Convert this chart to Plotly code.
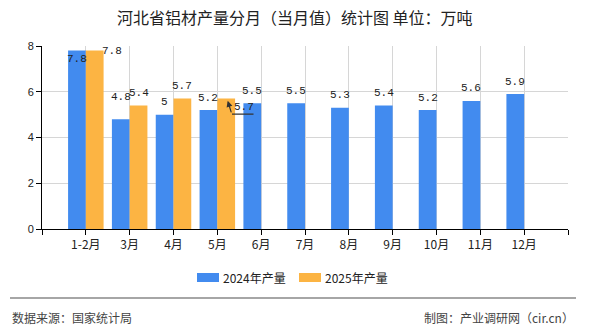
import plotly.graph_objects as go

# ---- data ----
categories = ["1-2月", "3月", "4月", "5月", "6月", "7月", "8月", "9月", "10月", "11月", "12月"]
values_2024 = [7.8, 4.8, 5.0, 5.2, 5.5, 5.5, 5.3, 5.4, 5.2, 5.6, 5.9]
values_2025 = [7.8, 5.4, 5.7, 5.7, None, None, None, None, None, None, None]
series_names = ["2024年产量", "2025年产量"]
y_ticks = [0, 2, 4, 6, 8]
title_text = "河北省铝材产量分月（当月值）统计图 单位：万吨"
source_text = "数据来源：国家统计局"
maker_text = "制图：产业调研网（cir.cn）"

# ---- style ----
W, H = 590, 330
PL, PR, PT, PB = 42, 568, 46, 229
C_BLUE = "#428bef"
C_ORANGE = "#fcb443"
GRID = "#d6d6d6"
BARGAP = 0.19
CJK = "Noto Sans CJK SC"
LBL_FONT = dict(family="Liberation Mono", size=11, color="#222")


def pxx(px):
    return (px - PL) / (PR - PL)


def pxy(py):
    return (PB - py) / (PB - PT)


positions = list(range(1, len(categories) + 1))
half = (1 - BARGAP) / 4.0  # center offset of each bar inside group

fig = go.Figure()
fig.add_trace(go.Bar(x=positions, y=values_2024, name=series_names[0],
                     marker=dict(color=C_BLUE, line=dict(width=0)), showlegend=False))
fig.add_trace(go.Bar(x=positions, y=values_2025, name=series_names[1],
                     marker=dict(color=C_ORANGE, line=dict(width=0)), showlegend=False))

annotations = []
# label placement tweaks (pixels)
shift_2024 = {0: (0, -8.6), 1: (0, 22)}
shift_2025 = {0: (17, 0), 3: (17.3, -8.2)}
for vals, sign, shifts in ((values_2024, -1, shift_2024), (values_2025, 1, shift_2025)):
    for i, v in enumerate(vals):
        if v is None:
            continue
        xs, ys = shifts.get(i, (0, 12.5))
        annotations.append(dict(x=positions[i] + sign * half, y=v, xref="x", yref="y",
                                text=f"{v:g}", showarrow=False, xanchor="center", yanchor="middle",
                                xshift=xs, yshift=ys, font=LBL_FONT))

# leader arrow for the displaced 5月 2025 label
idx = 3
annotations.append(dict(x=positions[idx] + half, y=values_2025[idx], xref="x", yref="y", text="",
                        showarrow=True, arrowhead=2, arrowsize=1, arrowwidth=1.2, arrowcolor="#333",
                        ax=4, ay=13, xshift=1.5, yshift=-2.2, standoff=0, startstandoff=0))
annotations.append(dict(x=positions[idx] + half, y=values_2025[idx], xref="x", yref="y", text="",
                        showarrow=True, arrowhead=0, arrowwidth=1.2, arrowcolor="#333",
                        ax=23, ay=0, xshift=5.8, yshift=-15.5, standoff=0, startstandoff=0))

# title
annotations.append(dict(x=pxx(295), y=pxy(17), xref="paper", yref="paper", text=title_text,
                        showarrow=False, xanchor="center", yanchor="middle",
                        font=dict(family=CJK, size=16, color="#222")))
# footer
annotations.append(dict(x=pxx(10), y=pxy(317), xref="paper", yref="paper", text=source_text,
                        showarrow=False, xanchor="left", yanchor="middle",
                        font=dict(family=CJK, size=12, color="#444")))
annotations.append(dict(x=pxx(576), y=pxy(317), xref="paper", yref="paper", text=maker_text,
                        showarrow=False, xanchor="right", yanchor="middle",
                        font=dict(family=CJK, size=12, color="#444")))

shapes = [dict(type="line", xref="paper", yref="paper", x0=pxx(10), x1=pxx(576),
               y0=pxy(298), y1=pxy(298), line=dict(color="#888", width=1.5))]

# custom legend
legend_items = [(series_names[0], C_BLUE, 197), (series_names[1], C_ORANGE, 299)]
for name, col, x0 in legend_items:
    shapes.append(dict(type="rect", xref="paper", yref="paper", x0=pxx(x0), x1=pxx(x0 + 22),
                       y0=pxy(282), y1=pxy(273), fillcolor=col, line=dict(width=0)))
    annotations.append(dict(x=pxx(x0 + 24), y=pxy(277.5), xref="paper", yref="paper", text=name,
                            showarrow=False, xanchor="left", yanchor="middle",
                            font=dict(family=CJK, size=12, color="#222")))

fig.update_layout(
    width=W, height=H,
    margin=dict(l=PL, r=W - PR, t=PT, b=H - PB, pad=0),
    paper_bgcolor="white", plot_bgcolor="white",
    barmode="group", bargap=BARGAP, bargroupgap=0,
    showlegend=False,
    annotations=annotations, shapes=shapes,
    xaxis=dict(range=[0, len(categories) + 1], tickmode="array",
               tickvals=[0] + positions + [len(categories) + 1],
               ticktext=[""] + categories + [""],
               showgrid=True, gridcolor=GRID, gridwidth=1,
               showline=True, linecolor="#000", linewidth=1,
               ticks="outside", ticklen=5, tickcolor="#000",
               tickfont=dict(family=CJK, size=12, color="#222"), zeroline=False, fixedrange=True),
    yaxis=dict(range=[0, 8], tickmode="array", tickvals=y_ticks,
               showgrid=True, gridcolor=GRID, gridwidth=1,
               showline=True, linecolor="#000", linewidth=1,
               ticks="outside", ticklen=5, tickcolor="#000",
               tickfont=dict(family="Liberation Sans", size=11, color="#222"), zeroline=False, fixedrange=True),
)

fig.write_html("out.html")
